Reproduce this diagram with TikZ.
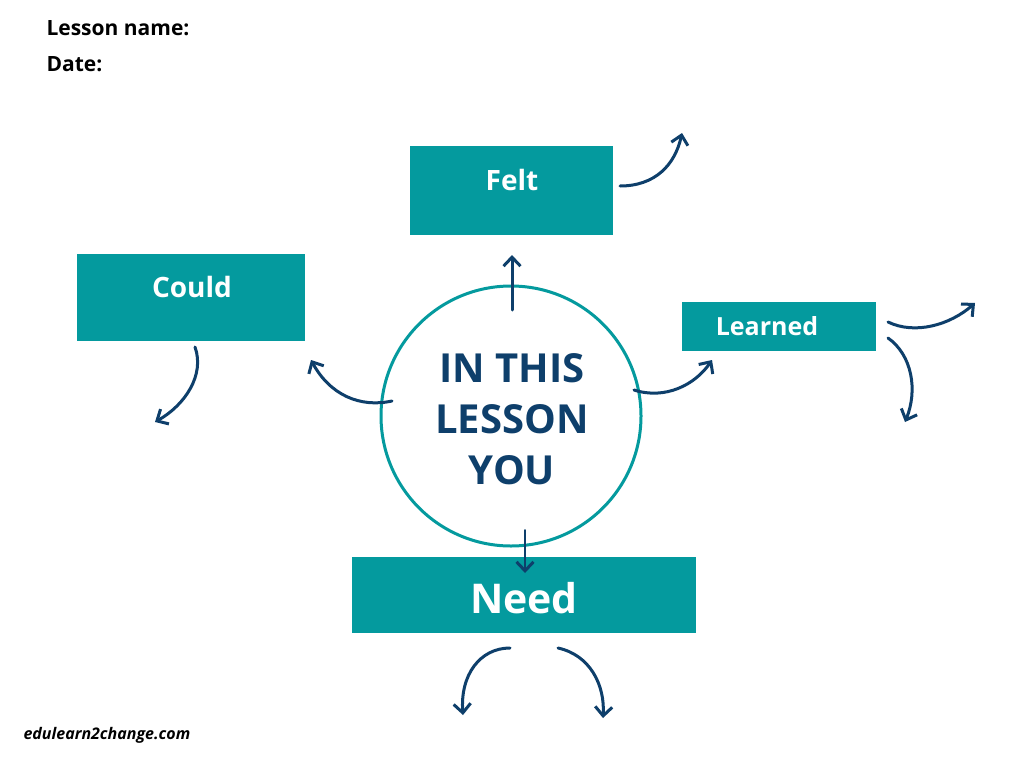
\documentclass[tikz,border=0pt]{standalone}
\usepackage{fontspec}
\setmainfont{Open Sans}
\usetikzlibrary{arrows.meta}
\definecolor{teal}{HTML}{049A9E}
\definecolor{navy}{HTML}{0E3F6B}
\begin{document}
\begin{tikzpicture}[x=1pt,y=-1pt,
 arr/.style={draw=navy,line width=3pt,line cap=round,-{Straight Barb[length=9pt,width=17pt,line width=3pt]}}]
\useasboundingbox (0,0) rectangle (1024,768);
\fill[white] (0,0) rectangle (1024,768);
\node[anchor=west,font=\bfseries\fontsize{21}{24}\selectfont] (ln) at (43,28) {Lesson name:};
\node[anchor=west,font=\bfseries\fontsize{21}{24}\selectfont] (dt) at (43,64) {Date:};
\node[anchor=west,font=\bfseries\itshape\fontsize{16}{18}\selectfont] (web) at (20,735) {edulearn2change.com};
\fill[teal] (410,146) rectangle (613,235); \node[text=white,font=\bfseries\fontsize{28}{30}\selectfont] (felt) at (512,180) {Felt};
\fill[teal] (77,254) rectangle (305,341); \node[text=white,font=\bfseries\fontsize{28}{30}\selectfont] (could) at (192,287) {Could};
\fill[teal] (682,302) rectangle (876,351); \node[text=white,font=\bfseries\fontsize{25}{28}\selectfont] (learned) at (767,326) {Learned};
\fill[teal] (352,557) rectangle (696,633); \node[text=white,font=\bfseries\fontsize{41}{44}\selectfont] (need) at (524,598) {Need};
\draw[teal,line width=3pt] (511,416) circle (130);
\node[text=navy,align=center,font=\bfseries\fontsize{40}{51}\selectfont] (c) at (512,419) {IN THIS\\LESSON\\YOU};
\coordinate (a1) at (512,310); \coordinate (b1) at (512,255);
\draw[arr] (a1) -- (b1);
\coordinate (a2) at (620,186); \coordinate (b2) at (682,133);
\draw[arr] (a2) .. controls (655,186) and (675,165) .. (b2);
\coordinate (a3) at (392,401); \coordinate (b3) at (311,360);
\draw[arr] (a3) .. controls (360,408) and (330,395) .. (b3);
\coordinate (a4) at (195,347); \coordinate (b4) at (155,422);
\draw[arr] (a4) .. controls (205,375) and (185,405) .. (b4);
\coordinate (a5) at (634,390); \coordinate (b5) at (712,360);
\draw[arr] (a5) .. controls (665,400) and (695,385) .. (b5);
\coordinate (a6) at (888,322); \coordinate (b6) at (975,303);
\draw[arr] (a6) .. controls (915,335) and (950,325) .. (b6);
\coordinate (a7) at (888,338); \coordinate (b7) at (905,422);
\draw[arr] (a7) .. controls (912,355) and (918,390) .. (b7);
\coordinate (a8) at (525,530); \coordinate (b8) at (525,573);
\draw[arr,line width=2pt] (a8) -- (b8);
\coordinate (a9) at (510,648); \coordinate (b9) at (463,715);
\draw[arr] (a9) .. controls (480,648) and (460,675) .. (b9);
\coordinate (a10) at (558,648); \coordinate (b10) at (603,718);
\draw[arr] (a10) .. controls (590,655) and (605,685) .. (b10);
\end{tikzpicture}
\end{document}
